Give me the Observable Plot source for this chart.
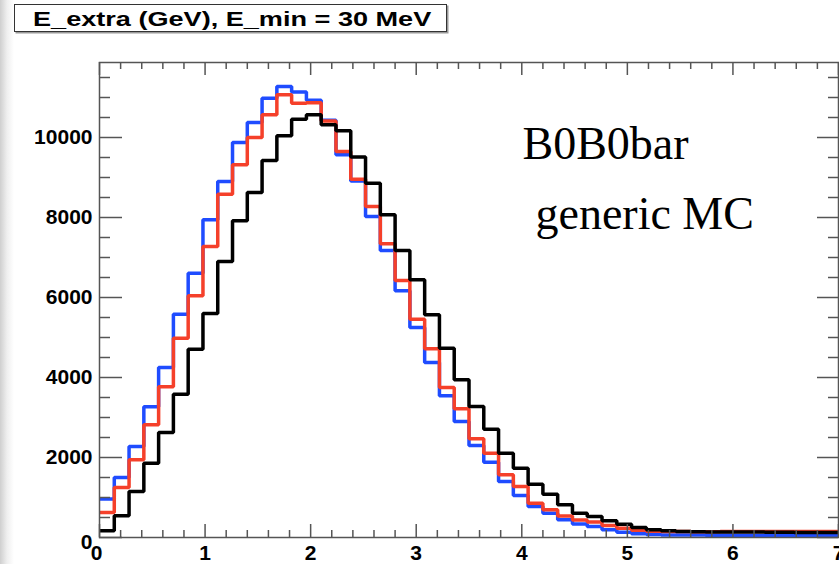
<!DOCTYPE html>
<html><head><meta charset="utf-8">
<script src="https://cdn.jsdelivr.net/npm/d3@7"></script>
<script src="https://cdn.jsdelivr.net/npm/@observablehq/plot@0.6"></script>
<style>
html,body{margin:0;padding:0;}
body{width:839px;height:564px;overflow:hidden;position:relative;background:linear-gradient(to right,#cfcfcf 0px,#efefef 7px,#ffffff 14px);}
#chart{position:absolute;left:0;top:0;}
#title{position:absolute;left:14px;top:4px;width:431px;height:26px;border:1.5px solid #333;box-shadow:1.5px 1.5px 0 #999;background:#fff;}
#title span{position:absolute;left:18px;top:2px;font:bold 21px "Liberation Sans",Arial,sans-serif;color:#000;white-space:nowrap;transform-origin:0 0;transform:scaleX(1.29);}
</style></head>
<body>
<div id="chart"></div>
<div id="title"><span>E_extra (GeV), E_min = 30 MeV</span></div>
<script>
// Histogram binning: 50 bins from 0 to 7 GeV
const xLo = 0, xHi = 7, nBins = 50;
// Bin contents
const blueCounts = [960,1500,2275,3267,4250,5583,6608,7942,8900,9875,10375,10983,11275,11140,10930,10430,9567,8910,8025,7175,6167,5250,4375,3542,2900,2300,1883,1400,1050,775,608,442,340,275,192,133,92,75,65,60,60,55,55,50,50,50,45,45,45,45];
const redCounts  = [625,1250,1942,2817,3767,4983,6042,7275,8583,9317,10000,10567,11067,10858,10870,10410,9650,8955,8275,7342,6425,5455,4717,3750,3217,2467,2108,1567,1275,858,692,540,440,390,300,233,180,155,150,150,145,145,150,150,150,150,150,150,150,150];
const blackCounts= [167,542,1150,1858,2625,3583,4708,5600,6900,7917,8625,9425,10042,10458,10567,10317,10167,9515,8858,8067,7175,6442,5567,4733,3942,3275,2708,2108,1733,1333,1083,817,608,525,417,333,250,192,167,150,145,140,140,135,135,130,130,125,125,125];
const seriesNames = ["blue","red","black"];
const seriesColors = ["#1f4cff","#f5402a","#000000"];
const yMajor = [0,2000,4000,6000,8000,10000];
const yMinor = d3.range(500, 12000, 500).filter(d => d % 2000 !== 0);
const xMajor = [0,1,2,3,4,5,6,7];
const xMinor = d3.range(1, 35).map(i => i / 5).filter(d => Math.abs(d - Math.round(d)) > 1e-9);
const yMax = 11875;
const label1 = "B0B0bar", label2 = "generic MC";

const binW = (xHi - xLo) / nBins;
function steps(counts) {
  const pts = counts.map((v, i) => ({x: xLo + i * binW, y: v}));
  pts.push({x: xHi, y: counts[counts.length - 1]});
  return pts;
}
const allCounts = [blueCounts, redCounts, blackCounts];

const W = 839, H = 564, mL = 99, mR = 1, mT = 62, mB = 27;
const iW = W - mL - mR, iH = H - mT - mB;
const tickStyle = {stroke: "#555", strokeWidth: 1.5};
const font = {fontSize: 21, fontWeight: "bold", fill: "#000", label: null, tickFormat: d3.format("d")};

const chart = Plot.plot({
  width: W, height: H,
  marginLeft: mL, marginRight: mR, marginTop: mT, marginBottom: mB,
  style: {fontFamily: "'Liberation Sans', Arial, sans-serif", background: "transparent", overflow: "visible"},
  x: {domain: [xLo, xHi], label: null},
  y: {domain: [0, yMax], label: null},
  marks: [
    ...allCounts.map((c, k) => Plot.line(steps(c), {x: "x", y: "y", curve: "step-after", stroke: seriesColors[k], strokeWidth: 3.5, strokeLinejoin: "miter", strokeLinecap: "butt"})),
    Plot.frame({stroke: "#555", strokeWidth: 1.5}),
    // left ticks (inward)
    Plot.tickY(yMajor, {y: d => d, ...tickStyle, insetRight: iW - 23}),
    Plot.tickY(yMinor, {y: d => d, ...tickStyle, insetRight: iW - 11}),
    // right ticks (inward)
    Plot.tickY(yMajor, {y: d => d, ...tickStyle, insetLeft: iW - 21}),
    Plot.tickY(yMinor, {y: d => d, ...tickStyle, insetLeft: iW - 10}),
    // bottom ticks (upward)
    Plot.tickX(xMajor, {x: d => d, ...tickStyle, insetTop: iH - 13}),
    Plot.tickX(xMinor, {x: d => d, ...tickStyle, insetTop: iH - 7}),
    // top ticks (downward)
    Plot.tickX(xMajor, {x: d => d, ...tickStyle, insetBottom: iH - 13}),
    Plot.tickX(xMinor, {x: d => d, ...tickStyle, insetBottom: iH - 7}),
    Plot.axisY(yMajor.filter(d => d > 0), {tickSize: 0, tickPadding: 7, ...font}),
    Plot.axisY([0], {tickSize: 0, tickPadding: 7, dy: 5, ...font}),
    Plot.axisX(xMajor.filter(d => d > 0), {tickSize: 0, tickPadding: 8, ...font}),
    Plot.axisX([0], {tickSize: 0, tickPadding: 8, dx: -3, ...font}),
    Plot.text([label1], {text: d => d, frameAnchor: "top-left", dx: 423, dy: 96, textAnchor: "start", lineAnchor: "bottom", fontSize: 46, fontFamily: "'Liberation Serif', 'Times New Roman', serif", fill: "#000"}),
    Plot.text([label2], {text: d => d, frameAnchor: "top-left", dx: 436, dy: 166, textAnchor: "start", lineAnchor: "bottom", fontSize: 46, fontFamily: "'Liberation Serif', 'Times New Roman', serif", fill: "#000"})
  ]
});
document.getElementById("chart").appendChild(chart);
</script>
</body></html>
